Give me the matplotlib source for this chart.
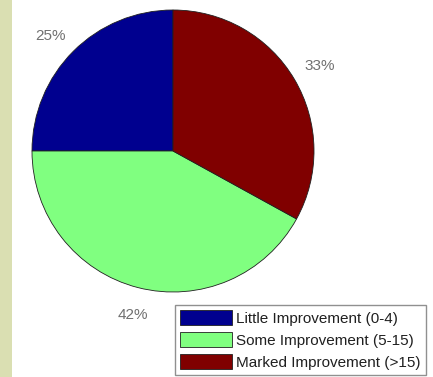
#!/usr/bin/env python3
"""Pie chart of improvement categories (MATLAB-style rendering)."""

import numpy as np
import matplotlib

matplotlib.use("Agg")
import matplotlib.pyplot as plt
from matplotlib.patches import Rectangle

# Data
categories = [
    "Little Improvement (0-4)",
    "Some Improvement (5-15)",
    "Marked Improvement (>15)",
]
shares = [25, 42, 33]
colors = ["#00008f", "#80ff80", "#800000"]

plt.rcParams["font.family"] = ["Liberation Sans", "DejaVu Sans"]

W, H = 433, 377
fig = plt.figure(figsize=(W / 100, H / 100), dpi=100)
fig.patch.set_facecolor("white")

# Textured strip on the left edge of the original screenshot
fig.patches.append(
    Rectangle((0, 0), 12 / W, 1, transform=fig.transFigure,
              facecolor="#dadfb2", edgecolor="none", zorder=0)
)

# Pie axes: center ~ (173, 151) px, radius ~ 141 px
cx, cy, r = 173, 151, 141
ax = fig.add_axes([(cx - r) / W, (H - cy - r) / H, 2 * r / W, 2 * r / H])
wedges, _ = ax.pie(
    shares,
    colors=colors,
    startangle=90,
    counterclock=True,
    radius=1.0,
    wedgeprops=dict(edgecolor="#202020", linewidth=0.6),
)
ax.set_xlim(-1, 1)
ax.set_ylim(-1, 1)
ax.set_aspect("auto")
ax.axis("off")

# Percentage labels placed outside each wedge, MATLAB style
total = float(sum(shares))
for w, v in zip(wedges, shares):
    mid = np.deg2rad((w.theta1 + w.theta2) / 2.0)
    dist = 1.08
    ha = "left" if np.cos(mid) >= 0 else "right"
    va = "bottom" if np.sin(mid) >= 0 else "top"
    if abs(np.cos(mid)) < 0.35:
        ha = "center"
        dist = 1.15
    x, y = dist * np.cos(mid), dist * np.sin(mid)
    ax.text(x, y, f"{round(100 * v / total):.0f}%", ha=ha, va=va,
            fontsize=11, color="#707070", clip_on=False)

leg = fig.legend(
    wedges,
    categories,
    loc="upper left",
    bbox_to_anchor=(175 / W, 1 - 305 / H),
    bbox_transform=fig.transFigure,
    borderaxespad=0,
    fontsize=11,
    handlelength=3.4,
    handleheight=1.1,
    handletextpad=0.25,
    labelspacing=0.42,
    borderpad=0.35,
    fancybox=False,
    framealpha=1,
    edgecolor="#909090",
)
leg.get_frame().set_linewidth(1.0)
for t in leg.get_texts():
    t.set_color("#202020")

fig.savefig("out.png", dpi=100)
